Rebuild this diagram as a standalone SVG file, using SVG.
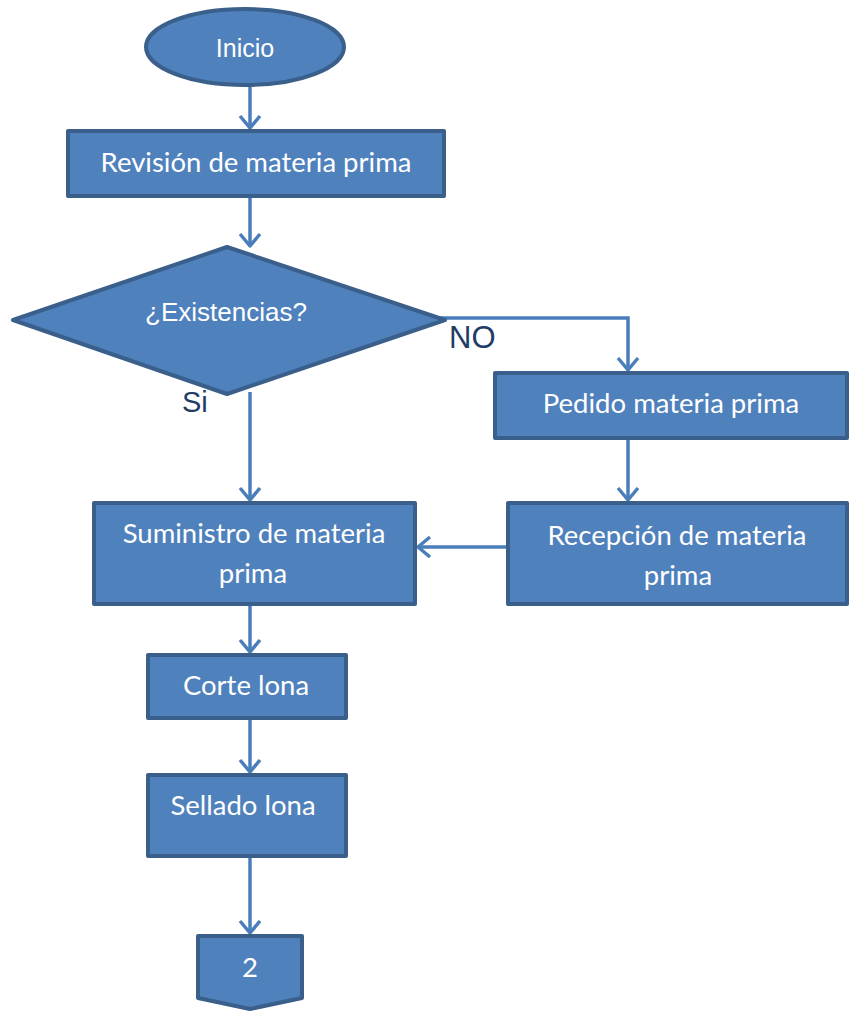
<svg xmlns="http://www.w3.org/2000/svg" width="851" height="1011" viewBox="0 0 851 1011">
<defs>
<style>
.node{fill:#4f81bd;stroke:#3a5f8b;stroke-width:4;stroke-linejoin:round}
.edge{fill:none;stroke:#4a7ebb;stroke-width:3.5;marker-end:url(#arr)}
.t{fill:#ffffff;font-family:Lato,"Open Sans",sans-serif;font-size:27.5px;text-anchor:middle}
.ta{fill:#ffffff;font-family:"Liberation Sans",Arial,sans-serif;font-size:25px;text-anchor:middle}
.lbl{fill:#1f3d66;font-family:"Liberation Sans",Arial,sans-serif;font-size:29px}
</style>
<marker id="arr" markerUnits="userSpaceOnUse" markerWidth="30" markerHeight="30" viewBox="-15 -15 30 30" refX="0" refY="0" orient="auto">
<path d="M-12,-10 L0,0 L-12,10" fill="none" stroke="#4a7ebb" stroke-width="3.5" stroke-linejoin="round"/>
</marker>
</defs>
<g id="connectors">
<path class="edge" d="M250,86 L250,128"/>
<path class="edge" d="M250,196 L250,246"/>
<path class="edge" d="M250,392 L250,500"/>
<path class="edge" d="M440,318 L628,318 L628,370"/>
<path class="edge" d="M628,438 L628,500"/>
<path class="edge" d="M507,547 L418,547"/>
<path class="edge" d="M250,605 L250,652"/>
<path class="edge" d="M250,719 L250,772"/>
<path class="edge" d="M250,857 L250,933"/>
</g>
<g id="inicio">
<ellipse class="node" cx="245" cy="47" rx="99" ry="38"/>
<text class="ta" x="245" y="57">Inicio</text>
</g>
<g id="revision">
<rect class="node" x="68" y="131" width="376" height="65"/>
<text class="t" x="256" y="172">Revisión de materia prima</text>
</g>
<g id="existencias">
<polygon class="node" points="227,247 445,320 227,394 13,320"/>
<text class="ta" x="226" y="321" style="font-size:26px">¿Existencias?</text>
</g>
<g id="pedido">
<rect class="node" x="495" y="373" width="352" height="65"/>
<text class="t" x="671" y="413">Pedido materia prima</text>
</g>
<g id="recepcion">
<rect class="node" x="508" y="503" width="339" height="101"/>
<text class="t" x="677" y="545">Recepción de materia</text>
<text class="t" x="678" y="585">prima</text>
</g>
<g id="suministro">
<rect class="node" x="94" y="503" width="321" height="101"/>
<text class="t" x="254" y="543">Suministro de materia</text>
<text class="t" x="253" y="583">prima</text>
</g>
<g id="corte">
<rect class="node" x="148" y="655" width="198" height="63"/>
<text class="t" x="246" y="695">Corte lona</text>
</g>
<g id="sellado">
<rect class="node" x="148" y="775" width="198" height="81"/>
<text class="t" x="243" y="815">Sellado lona</text>
</g>
<g id="conector2">
<polygon class="node" points="198,936 302,936 302,998 250,1009 198,998"/>
<text class="t" x="250" y="977">2</text>
</g>
<g id="labels">
<text class="lbl" x="449" y="348" style="font-size:31px">NO</text>
<text class="lbl" x="182" y="412">Si</text>
</g>
</svg>
